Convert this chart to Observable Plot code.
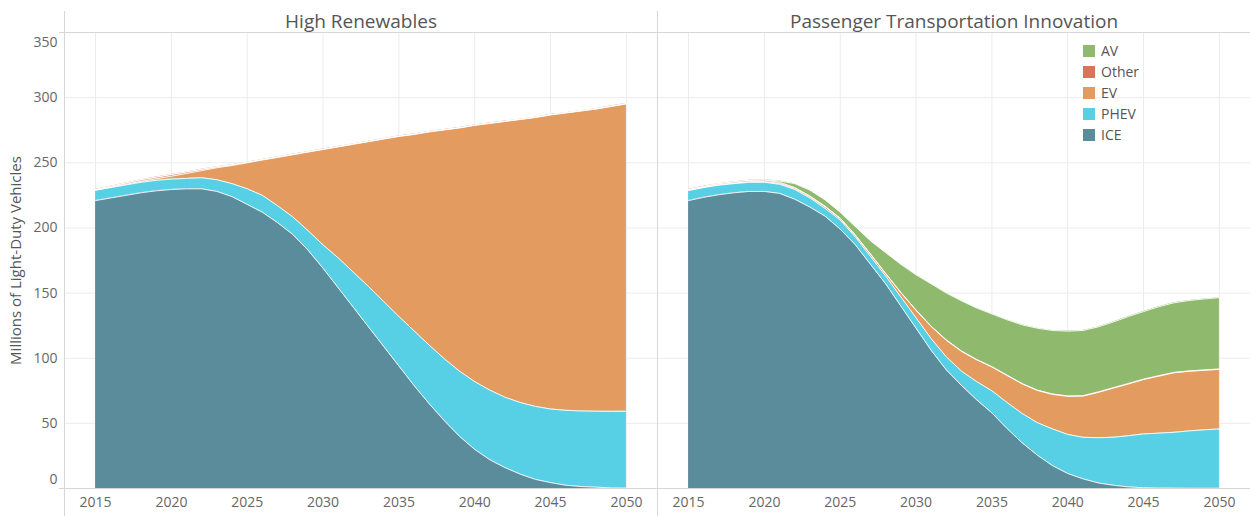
<!DOCTYPE html>
<html><head><meta charset="utf-8">
<script src="https://cdn.jsdelivr.net/npm/d3@7"></script>
<script src="https://cdn.jsdelivr.net/npm/@observablehq/plot@0.6"></script>
<style>
body{margin:0;background:#fff;font-family:"Open Sans",sans-serif}
#wrap{position:relative;width:1250px;height:516px;overflow:hidden}
#legend{position:absolute;left:1083px;top:40px;font-size:14px;color:#555;font-family:"Open Sans",sans-serif}
#legend .row{display:flex;align-items:center;height:21px}
#legend .sw{width:12px;height:12px;margin-right:6px}
</style></head><body><div id="wrap"><div id="legend"></div></div>
<script>
// ---- data ----
const years = [2015,2016,2017,2018,2019,2020,2021,2022,2023,2024,2025,2026,2027,2028,2029,2030,2031,2032,2033,2034,2035,2036,2037,2038,2039,2040,2041,2042,2043,2044,2045,2046,2047,2048,2049,2050];
const scenarios = ["High Renewables", "Passenger Transportation Innovation"];
const types = ["ICE", "PHEV", "EV", "Other", "AV"];          // stack order, bottom to top
const legendOrder = ["AV", "Other", "EV", "PHEV", "ICE"];
const typeColors = ["#8fba6e", "#d9745a", "#e39b5f", "#57d0e6", "#5b8c9c"]; // for legendOrder
const xTicks = [2015, 2020, 2025, 2030, 2035, 2040, 2045, 2050];
const yTicks = [0, 50, 100, 150, 200, 250, 300, 350];
const yLabel = "Millions of Light-Duty Vehicles";

// High Renewables (millions of vehicles)
const hrICE   = [221,223,225,227,228.5,229.5,230,230,228,224, 218,212,204,195,183,169,154,139,124,109, 94,79,65,52,40,30,22,16,11,7, 4.5,2.5,1.5,1,0.5,0.3];
const hrPHEV  = [8,8,8,8,8,8,8,8.5,9,10, 12,13,13,13.5,15,18,23,27,31,34.5, 38,42,45,47.5,50,52,53.5,54,55,56, 56.5,57.5,58,58.3,58.7,58.9];
const hrEV    = [0,0.2,0.5,0.8,1.2,2.2,3.8,5.5,9.2,13.9, 20,27.1,37.1,47.6,60.2,73.2,85.2,98.2,111.2,124.7, 138.2,150.7,163.7,175.7,186.7,196.7,204.7,211.7,217.2,221.7, 225.7,228.2,230.2,231.9,234,236];
const hrOther = [0.5,0.8,1,1.2,1.3,1.3,1.2,1,0.8,0.6, 0.5,0.4,0.4,0.4,0.3,0.3,0.3,0.3,0.3,0.3, 0.3,0.3,0.3,0.3,0.3,0.3,0.3,0.3,0.3,0.3, 0.3,0.3,0.3,0.3,0.3,0.3];
const hrAV    = [0,0,0,0,0,0,0,0,0,0, 0,0,0,0,0,0,0,0,0,0, 0,0,0,0,0,0,0,0,0,0, 0,0,0,0,0,0];

// Passenger Transportation Innovation
const ptiICE   = [221,223.5,225.5,227,228,228,226.5,222,216,209, 199,187,172,157,140,123,106,91,79,68, 58,46,35,25.5,17.5,11.5,7.4,4.3,2.5,1.2, 0.6,0.3,0.2,0.1,0.1,0.1];
const ptiPHEV  = [7.7,7.5,7.3,7,7,7,7,7.5,7,6, 7,6,6,6,7,8,9,10,11,14, 17,20,22.5,25,28.2,30,31.9,34.7,36.8,39.3, 41.3,42.2,42.9,44.1,44.9,45.6];
const ptiEV    = [0.3,0.3,0.4,0.5,0.5,0.6,0.7,0.9,1,1.2, 1.2,1.2,1.7,1.7,3.2,5.7,9.2,12.7,15.2,16.7, 18.2,20.7,22.7,24.7,26.5,29.2,31.6,34.7,37.7,39.7, 41.7,43.7,45.7,45.7,45.7,45.7];
const ptiOther = [0.5,0.6,0.8,0.9,1,1,0.8,0.6,0.5,0.5, 0.3,0.3,0.3,0.3,0.3,0.3,0.3,0.3,0.3,0.3, 0.3,0.3,0.3,0.3,0.3,0.3,0.3,0.3,0.3,0.3, 0.3,0.3,0.3,0.3,0.3,0.3];
const ptiAV    = [0,0,0,0,0,0.4,1,3,4.5,4.8, 4.5,6.5,10,16,21.5,27,32.5,36,38.5,39.5, 40.5,42.5,45.1,47.5,48.8,49.8,50.1,50,50.5,51.5, 51.9,53,53.4,54.1,54.5,54.8];

// ---- table for Plot ----
const series = {
  "High Renewables": {ICE: hrICE, PHEV: hrPHEV, EV: hrEV, Other: hrOther, AV: hrAV},
  "Passenger Transportation Innovation": {ICE: ptiICE, PHEV: ptiPHEV, EV: ptiEV, Other: ptiOther, AV: ptiAV}
};
const rows = [];
for (const s of scenarios) for (const t of types) years.forEach((yr, i) => rows.push({scenario: s, type: t, year: yr, value: series[s][t][i]}));

const gridColor = "#ececec";
const borderColor = "#d6d6d6";

const plot = Plot.plot({
  width: 1250, height: 516,
  marginLeft: 64, marginRight: 0, marginTop: 32, marginBottom: 28,
  style: {fontFamily: "'Open Sans', sans-serif", fontSize: "14px", color: "#666", background: "white"},
  fx: {domain: scenarios, padding: 0, label: null},
  x: {domain: [2012.95, 2052.05], label: null},
  y: {domain: [0, 350], label: null},
  color: {domain: legendOrder, range: typeColors},
  marks: [
    Plot.gridX(xTicks, {stroke: gridColor, strokeOpacity: 1}),
    Plot.gridY(yTicks.slice(1, -1), {stroke: gridColor, strokeOpacity: 1}),
    Plot.areaY(rows, Plot.stackY({x: "year", y: "value", z: "type", fill: "type", fx: "scenario", order: types})),
    Plot.lineY(rows, Plot.stackY2({x: "year", y: "value", z: "type", fx: "scenario", order: types, stroke: "white", strokeWidth: 0.9})),
    Plot.ruleY([0], {stroke: borderColor, insetLeft: -5}),
    Plot.ruleY([350], {stroke: borderColor, insetLeft: -5}),
    Plot.frame({anchor: "left", stroke: borderColor, insetTop: -21, insetBottom: -28}),
    Plot.axisX({ticks: xTicks, tickSize: 0, tickPadding: 9, tickFormat: d => String(d), label: null}),
    Plot.axisY({ticks: yTicks.slice(1, -1), tickSize: 0, tickPadding: 7, label: yLabel, labelAnchor: "center", labelOffset: 54, labelArrow: "none"}),
    Plot.axisY({ticks: yTicks.slice(0, 1), tickSize: 0, tickPadding: 7, dy: -9, label: null}),
    Plot.axisY({ticks: yTicks.slice(-1), tickSize: 0, tickPadding: 7, dy: 10, label: null}),
    Plot.axisFx({anchor: "top", tickSize: 0, tickPadding: 5, fontSize: 19, fill: "#555", label: null})
  ]
});
const wrap = document.getElementById("wrap");
wrap.insertBefore(plot, wrap.firstChild);
// y-axis label colour
plot.querySelectorAll("text").forEach(t => { if (t.textContent === yLabel) { t.setAttribute("fill", "#555"); t.style.fontSize = "15px"; } });

// legend built from the colour scale
const colorScale = plot.scale("color");
const legend = document.getElementById("legend");
for (const t of legendOrder) {
  const row = document.createElement("div"); row.className = "row";
  const sw = document.createElement("span"); sw.className = "sw"; sw.style.background = colorScale.apply(t);
  const lab = document.createElement("span"); lab.textContent = t;
  row.appendChild(sw); row.appendChild(lab); legend.appendChild(row);
}
</script></body></html>
